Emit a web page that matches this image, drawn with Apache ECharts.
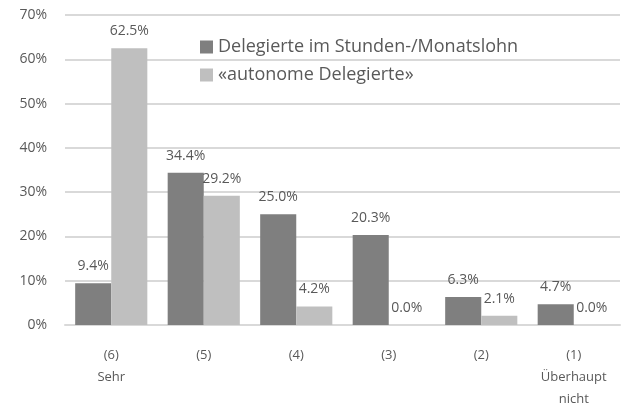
<!DOCTYPE html>
<html>
<head>
  <meta charset="utf-8">
  <style>
  body { margin: 0; background: #fff; }
  #main { width: 624px; height: 410px; }
  </style>
</head>
<body>
  <div id="main"></div>
  <script src="https://cdn.jsdelivr.net/npm/echarts@6/dist/echarts.min.js"></script>
  <script>
  const categories = ['(6)\nSehr', '(5)', '(4)', '(3)', '(2)', '(1)\nÜberhaupt\nnicht'];
  const stundenlohn = [9.4, 34.4, 25.0, 20.3, 6.3, 4.7];
  const autonom = [62.5, 29.2, 4.2, 0.0, 2.1, 0.0];
  const yTicks = [0, 10, 20, 30, 40, 50, 60, 70];

  const txt = '#595959';
  const font = 'Open Sans';

  const labelCfg = {
    show: true,
    position: 'top',
    distance: 10,
    color: txt,
    fontFamily: font,
    fontSize: 14,
    formatter: p => p.value.toFixed(1) + '%'
  };

  let option = {
    animation: false,
    textStyle: { fontFamily: font },
    grid: { left: 65, right: 4, top: 15, bottom: 80 },
    legend: {
      orient: 'vertical',
      left: 195,
      top: 33,
      itemWidth: 13,
      itemHeight: 13,
      itemGap: 10,
      icon: 'rect',
      textStyle: { color: txt, fontSize: 18, fontFamily: font }
    },
    xAxis: {
      type: 'category',
      data: categories,
      axisLine: { lineStyle: { color: '#d9d9d9', width: 2 } },
      axisTick: { show: false },
      axisLabel: { color: txt, fontSize: 13, lineHeight: 22, margin: 19, fontFamily: font }
    },
    yAxis: {
      type: 'value',
      min: yTicks[0],
      max: yTicks[yTicks.length - 1],
      interval: 10,
      axisLine: { show: false },
      axisTick: { show: false },
      splitLine: { lineStyle: { color: '#d9d9d9', width: 2 } },
      axisLabel: { color: txt, fontSize: 14, margin: 18, formatter: '{value}%', fontFamily: font }
    },
    series: [{
      name: 'Delegierte im Stunden-/Monatslohn',
      type: 'bar',
      data: stundenlohn,
      itemStyle: { color: '#7f7f7f' },
      barGap: '0%',
      barCategoryGap: '22%',
      label: labelCfg
    }, {
      name: '«autonome Delegierte»',
      type: 'bar',
      data: autonom,
      itemStyle: { color: '#bfbfbf' },
      label: labelCfg
    }]
  };
  let myChart = echarts.init(document.getElementById('main'));
  myChart.setOption(option);
  </script>
</body>
</html>
